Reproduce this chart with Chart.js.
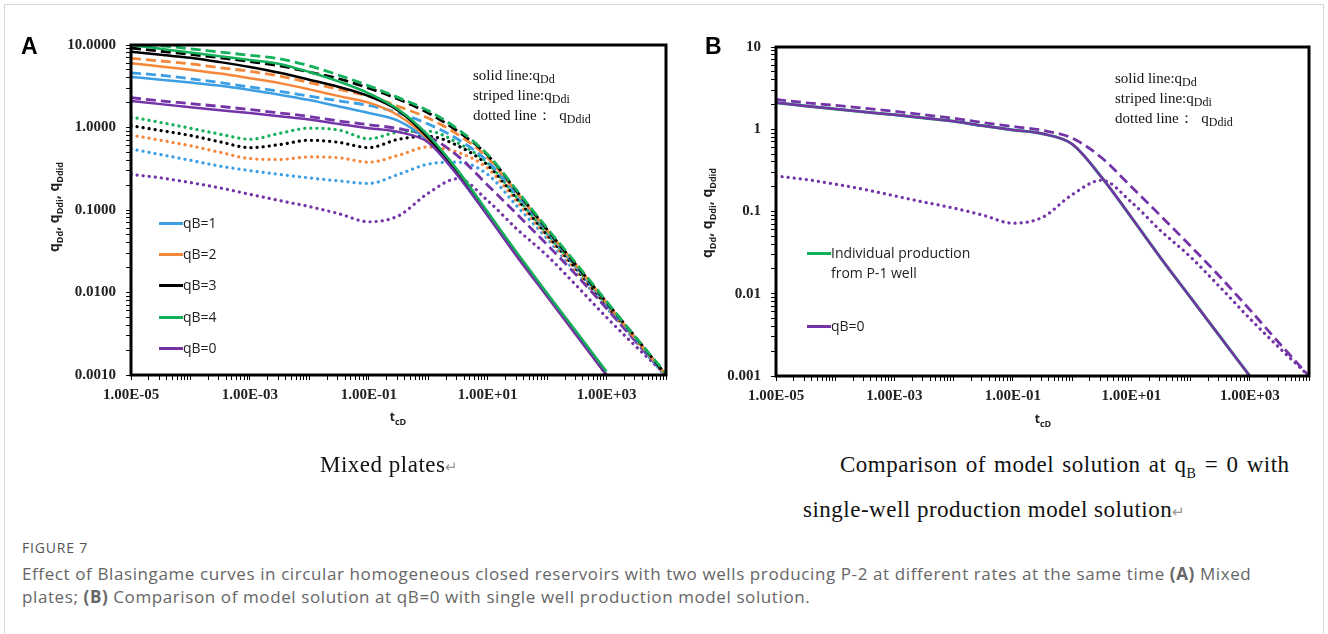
<!DOCTYPE html>
<html>
<head>
<title>Figure 7 - Blasingame curves</title>
<style>
  body { margin: 0; width: 1328px; height: 634px; background: #fff; position: relative; overflow: hidden; font-family: 'Open Sans', sans-serif; }
  .frame { position: absolute; left: 4px; top: 4px; width: 1318px; height: 700px; border: 1px solid #d8d8d8; }
  canvas { position: absolute; top: 0; }
  .tag { position: absolute; font: bold 23px 'Liberation Sans', Arial, sans-serif; color: #000; }
  .note { position: absolute; font: 15px 'Liberation Serif', serif; color: #111; line-height: 19px; white-space: nowrap; }
  .note span { font-size: 12px; position: relative; top: 3px; }
  .leg { position: absolute; font: 14px 'Open Sans', sans-serif; color: #222; white-space: nowrap; line-height: 20px; }
  .leg i { position: absolute; left: -24px; top: 9px; width: 24px; height: 3px; }
  .ytitle { position: absolute; font: bold 14px 'Open Sans', sans-serif; color: #222; white-space: nowrap; transform: translate(-50%, -50%) rotate(-90deg); }
  .ytitle sub, .xtitle sub { font-size: 9px; }
  .xtitle { position: absolute; font: bold 12px 'Open Sans', sans-serif; color: #222; transform: translate(-50%, -50%); }
  .cap { position: absolute; font: 23px 'Liberation Serif', serif; color: #111; white-space: nowrap; letter-spacing: 0.5px; transform: translateY(-50%); }
  .cap sub { font-size: 14px; }
  .ret { color: #999; font-size: 15px; }
  .fig { position: absolute; left: 22px; top: 538px; font: 14px 'Open Sans', sans-serif; color: #555; letter-spacing: 0.8px; }
  .caption { position: absolute; left: 22px; top: 562px; font: 17px 'Open Sans', sans-serif; color: #666; line-height: 23px; white-space: nowrap; letter-spacing: 0.6px; }
</style>
</head>
<body>
<div class="frame"></div>

<canvas id="chartA" width="700" height="440" style="left:0"></canvas>
<canvas id="chartB" width="628" height="440" style="left:700px"></canvas>

<div class="tag" style="left:21px; top:33px;">A</div>
<div class="tag" style="left:705px; top:33px;">B</div>

<div class="note" style="left:473px; top:66px;">solid line:q<span>Dd</span><br>striped line:q<span>Ddi</span><br>dotted line：&nbsp; q<span>Ddid</span></div>
<div class="note" style="left:1115px; top:69px;">solid line:q<span>Dd</span><br>striped line:q<span>Ddi</span><br>dotted line：&nbsp; q<span>Ddid</span></div>

<div class="ytitle" style="left:55px; top:207px;">q<sub>Dd</sub>, q<sub>Ddi</sub>, q<sub>Ddid</sub></div>
<div class="ytitle" style="left:708px; top:213px;">q<sub>Dd</sub>, q<sub>Ddi</sub>, q<sub>Ddid</sub></div>
<div class="xtitle" style="left:398px; top:418px;">t<sub>cD</sub></div>
<div class="xtitle" style="left:1043px; top:420px;">t<sub>cD</sub></div>

<div class="leg" style="left:183px; top:213px;"><i style="background:#3d9fe3"></i>qB=1</div>
<div class="leg" style="left:183px; top:244px;"><i style="background:#f5873a"></i>qB=2</div>
<div class="leg" style="left:183px; top:275px;"><i style="background:#000"></i>qB=3</div>
<div class="leg" style="left:183px; top:307px;"><i style="background:#14b05a"></i>qB=4</div>
<div class="leg" style="left:183px; top:338px;"><i style="background:#7434a8"></i>qB=0</div>

<div class="leg" style="left:831px; top:243px;"><i style="background:#14b05a"></i>Individual production<br>from P-1 well</div>
<div class="leg" style="left:831px; top:316px;"><i style="background:#7434a8"></i>qB=0</div>

<div class="cap" style="left:320px; top:465px;">Mixed plates<span class="ret">↵</span></div>
<div class="cap" style="left:840px; top:467px; word-spacing:2px;">Comparison of model solution at q<sub>B</sub> = 0 with</div>
<div class="cap" style="left:803px; top:510px;">single-well production model solution<span class="ret">↵</span></div>

<div class="fig">FIGURE 7</div>
<div class="caption">Effect of Blasingame curves in circular homogeneous closed reservoirs with two wells producing P-2 at different rates at the same time <b>(A)</b> Mixed<br>plates; <b>(B)</b> Comparison of model solution at qB=0 with single well production model solution.</div>

<script src="https://cdn.jsdelivr.net/npm/chart.js"></script>
<script>
    // dimensionless time t_cD, half-decade steps
    const tD = [1e-5, 3.16e-5, 1e-4, 3.16e-4, 1e-3, 3.16e-3, 0.01, 0.0316, 0.1, 0.316, 1, 3.16, 10, 31.6, 100, 316, 1000, 3162, 10000];

    // solid lines: qDd
    const qDd1 = [4.1, 3.8, 3.5, 3.2, 2.85, 2.5, 2.15, 1.8, 1.5, 1.2, 0.68, 0.26, 0.086, 0.027, 0.009, 0.003, 0.001, null, null];
    const qDd2 = [6.0, 5.5, 5.0, 4.5, 3.95, 3.45, 2.9, 2.4, 2.0, 1.4, 0.72, 0.27, 0.087, 0.027, 0.009, 0.003, 0.001, null, null];
    const qDd3 = [8.3, 7.6, 7.0, 6.2, 5.4, 4.6, 3.8, 3.1, 2.4, 1.6, 0.75, 0.27, 0.088, 0.028, 0.0092, 0.0031, 0.001, null, null];
    const qDd4 = [10, 9.0, 8.1, 7.3, 6.6, 5.9, 4.7, 3.6, 2.6, 1.65, 0.8, 0.3, 0.095, 0.03, 0.0098, 0.0033, 0.0011, null, null];
    const qDd0 = [2.1, 1.92, 1.76, 1.62, 1.5, 1.37, 1.25, 1.1, 0.98, 0.88, 0.66, 0.26, 0.085, 0.027, 0.009, 0.003, 0.001, null, null];

    // striped lines: qDdi
    const qDdi1 = [4.6, 4.3, 3.9, 3.5, 3.1, 2.75, 2.4, 2.1, 1.85, 1.5, 1.1, 0.72, 0.39, 0.15, 0.055, 0.02, 0.0073, 0.0027, 0.00098];
    const qDdi2 = [6.9, 6.4, 5.9, 5.3, 4.8, 4.2, 3.5, 2.9, 2.4, 1.8, 1.3, 0.82, 0.43, 0.16, 0.057, 0.021, 0.0075, 0.0027, 0.001];
    const qDdi3 = [9.2, 8.4, 7.7, 7.0, 6.3, 5.6, 4.7, 3.9, 3.0, 2.2, 1.5, 0.9, 0.46, 0.165, 0.058, 0.021, 0.0076, 0.0028, 0.001];
    const qDdi4 = [10.5, 9.8, 9.0, 8.2, 7.5, 6.8, 5.6, 4.3, 3.2, 2.3, 1.6, 0.95, 0.47, 0.17, 0.06, 0.022, 0.0078, 0.0028, 0.00105];
    const qDdi0 = [2.3, 2.1, 1.95, 1.8, 1.65, 1.5, 1.36, 1.2, 1.08, 0.97, 0.78, 0.45, 0.2, 0.088, 0.038, 0.016, 0.0064, 0.0025, 0.001];

    // dotted lines: qDdid
    const qDdid1 = [0.55, 0.47, 0.4, 0.34, 0.3, 0.27, 0.245, 0.225, 0.21, 0.27, 0.36, 0.38, 0.27, 0.11, 0.045, 0.017, 0.0065, 0.0025, 0.00095];
    const qDdid2 = [0.81, 0.7, 0.6, 0.5, 0.42, 0.41, 0.44, 0.43, 0.38, 0.46, 0.58, 0.5, 0.32, 0.125, 0.048, 0.018, 0.0068, 0.0026, 0.001];
    const qDdid3 = [1.05, 0.92, 0.8, 0.67, 0.57, 0.62, 0.7, 0.66, 0.57, 0.72, 0.78, 0.6, 0.35, 0.135, 0.05, 0.019, 0.007, 0.0027, 0.001];
    const qDdid4 = [1.34, 1.15, 0.98, 0.83, 0.72, 0.85, 0.98, 0.93, 0.73, 0.88, 0.9, 0.65, 0.37, 0.14, 0.052, 0.02, 0.0072, 0.0027, 0.001];
    const qDdid0 = [0.27, 0.245, 0.215, 0.185, 0.155, 0.13, 0.11, 0.09, 0.072, 0.085, 0.16, 0.24, 0.13, 0.058, 0.028, 0.012, 0.005, 0.0022, 0.001];

    // single well P-1 (panel B, under the qB=0 solid line)
    const qDdP1 = [2.1, 1.92, 1.76, 1.62, 1.5, 1.37, 1.25, 1.1, 0.98, 0.88, 0.66, 0.26, 0.085, 0.027, 0.009, 0.003, 0.001, null, null];

    // tick labels
    const xTickValues = [1e-5, 1e-3, 1e-1, 1e1, 1e3];
    const xTickLabels = ['1.00E-05', '1.00E-03', '1.00E-01', '1.00E+01', '1.00E+03'];
    const yTickValues = [0.001, 0.01, 0.1, 1, 10];
    const yTickLabelsA = ['0.0010', '0.0100', '0.1000', '1.0000', '10.0000'];
    const yTickLabelsB = ['0.001', '0.01', '0.1', '1', '10'];

    const BLUE = '#3d9fe3', ORANGE = '#f5873a', BLACK = '#000000', GREEN = '#14b05a', PURPLE = '#7434a8';

    const pts = ys => ys.map((y, i) => ({ x: tD[i], y })).filter(p => p.y !== null);

    function solid(ys, color, w) {
        return { data: pts(ys), borderColor: color, borderWidth: w || 2.5, pointRadius: 0, cubicInterpolationMode: 'monotone' };
    }
    function dashed(ys, color) {
        return { data: pts(ys), borderColor: color, borderWidth: 2.8, borderDash: [10, 5], pointRadius: 0, cubicInterpolationMode: 'monotone' };
    }
    function dotted(ys, color) {
        return { data: pts(ys), borderColor: color, borderWidth: 3.2, borderDash: [0.1, 6], borderCapStyle: 'round', pointRadius: 0, cubicInterpolationMode: 'monotone' };
    }

    function decadeTicks(from, to) {
        const ticks = [];
        for (let e = from; e < to; e++) {
            for (let m = 1; m < 10; m++) ticks.push({ value: m * Math.pow(10, e) });
        }
        ticks.push({ value: Math.pow(10, to) });
        return ticks;
    }
    function pickLabel(v, values, labels) {
        const i = values.findIndex(t => Math.abs(Math.log10(t) - Math.log10(v)) < 1e-6);
        return i >= 0 ? labels[i] : '';
    }

    // black box around the plot area
    const frame = {
        id: 'frame',
        afterDraw(chart) {
            const { ctx, chartArea: a } = chart;
            ctx.save();
            ctx.strokeStyle = '#000';
            ctx.lineWidth = 3;
            ctx.strokeRect(a.left, a.top, a.right - a.left, a.bottom - a.top);
            ctx.restore();
        }
    };

    const tickFont = { family: "'Liberation Serif', serif", size: 15, weight: 'bold' };

    function makeChart(id, datasets, yLabels, padding) {
        return new Chart(document.getElementById(id), {
            type: 'line',
            data: { datasets },
            options: {
                responsive: false,
                animation: false,
                layout: { padding },
                plugins: { legend: { display: false }, tooltip: { enabled: false } },
                scales: {
                    x: {
                        type: 'logarithmic', min: 1e-5, max: 1e4,
                        afterBuildTicks: s => { s.ticks = decadeTicks(-5, 4); },
                        afterFit: s => { s.height = 30; },
                        border: { display: false },
                        grid: { drawOnChartArea: false, drawTicks: true, tickLength: 5, tickColor: '#000', tickWidth: 1 },
                        ticks: { autoSkip: false, maxRotation: 0, padding: 6, color: '#222', font: tickFont,
                                 callback: v => pickLabel(v, xTickValues, xTickLabels) }
                    },
                    y: {
                        type: 'logarithmic', min: 0.001, max: 10,
                        afterBuildTicks: s => { s.ticks = decadeTicks(-3, 1); },
                        afterFit: s => { s.width = 70; },
                        border: { display: false },
                        grid: { drawOnChartArea: false, drawTicks: true, tickLength: 5, tickColor: '#000', tickWidth: 1 },
                        ticks: { autoSkip: false, padding: 10, color: '#222', font: tickFont,
                                 callback: v => pickLabel(v, yTickValues, yLabels) }
                    }
                }
            },
            plugins: [frame]
        });
    }

    // panel A: mixed plates (first dataset is drawn on top)
    makeChart('chartA', [
        solid(qDd4, GREEN), solid(qDd0, PURPLE), solid(qDd3, BLACK), solid(qDd2, ORANGE), solid(qDd1, BLUE),
        dashed(qDdi4, GREEN), dashed(qDdi3, BLACK), dashed(qDdi2, ORANGE), dashed(qDdi1, BLUE), dashed(qDdi0, PURPLE),
        dotted(qDdid4, GREEN), dotted(qDdid3, BLACK), dotted(qDdid2, ORANGE), dotted(qDdid1, BLUE), dotted(qDdid0, PURPLE)
    ], yTickLabelsA, { left: 61, right: 34, top: 45, bottom: 35 });

    // panel B: qB=0 vs single well
    makeChart('chartB', [
        solid(qDd0, PURPLE), solid(qDdP1, GREEN, 3.0),
        dashed(qDdi0, PURPLE), dotted(qDdid0, PURPLE)
    ], yTickLabelsB, { left: 6, right: 19, top: 47, bottom: 34 });
</script>
</body>
</html>
